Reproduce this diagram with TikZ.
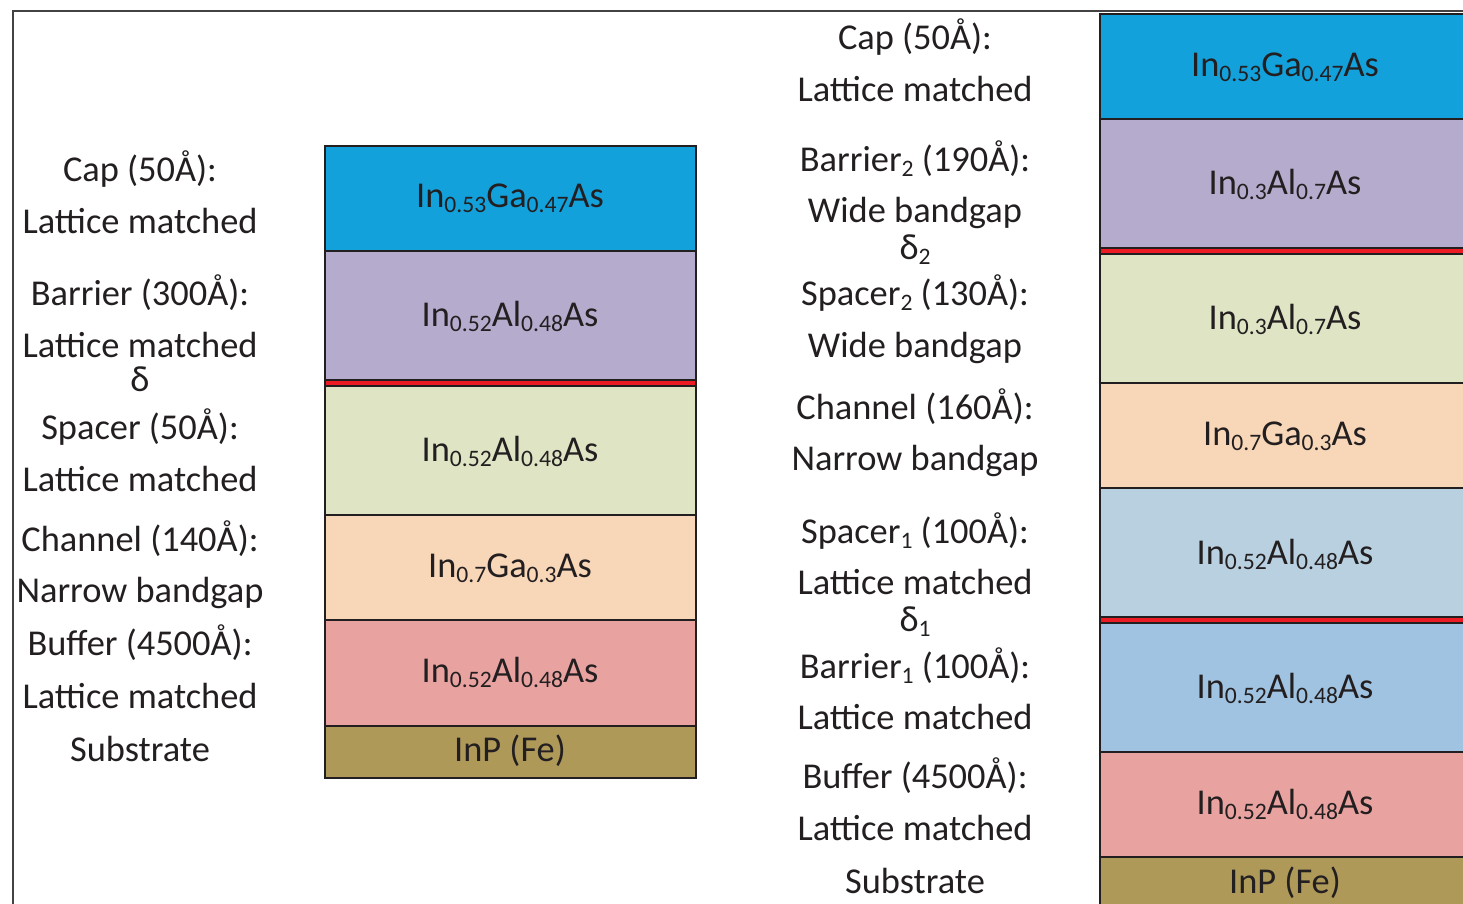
\documentclass[tikz,border=0pt]{standalone}
\usepackage{fontspec}
\setmainfont{Carlito}
\definecolor{edge}{HTML}{231F20}
\definecolor{txt}{HTML}{231F20}
\definecolor{cblue}{HTML}{13A1DB}
\definecolor{cpurple}{HTML}{B5ABCD}
\definecolor{cgreen}{HTML}{DFE4C4}
\definecolor{cpeach}{HTML}{F8D6B8}
\definecolor{clblue}{HTML}{B8D0DF}
\definecolor{cmblue}{HTML}{A0C3E1}
\definecolor{cpink}{HTML}{E8A3A1}
\definecolor{cgold}{HTML}{AE9959}
\definecolor{cred}{HTML}{ED1C24}
\newcommand\sbs[1]{\raisebox{-2.6pt}{\fontsize{11.8}{12}\selectfont #1}}
\begin{document}
\begin{tikzpicture}[x=0.5pt,y=-0.5pt,
  lay/.style={draw=edge,line width=1.3pt},
  dlay/.style={draw=edge,line width=0.8pt,fill=cred},
  lbl/.style={font=\fontsize{18.2}{20}\selectfont, text=txt, inner sep=0pt, text height=11.5pt, text depth=0pt, anchor=center},
  frameline/.style={draw=edge!85,line width=0.8pt}]
\useasboundingbox (0,0) rectangle (1463,904);
\clip (0,0) rectangle (1463,904);
\draw[frameline] (13,960) -- (13,11) -- (1500,11);

% left stack
\filldraw[lay,fill=cblue]   (325,146) rectangle (696,251);
\filldraw[lay,fill=cpurple] (325,251) rectangle (696,380);
\filldraw[dlay]             (325,380) rectangle (696,386);
\filldraw[lay,fill=cgreen]  (325,386) rectangle (696,515);
\filldraw[lay,fill=cpeach]  (325,515) rectangle (696,620);
\filldraw[lay,fill=cpink]   (325,620) rectangle (696,726);
\filldraw[lay,fill=cgold]   (325,726) rectangle (696,778);

\node[lbl] (lm1) at (510,196) {In\sbs{0.53}Ga\sbs{0.47}As};
\node[lbl] (lm2) at (510,315) {In\sbs{0.52}Al\sbs{0.48}As};
\node[lbl] (lm3) at (510,450) {In\sbs{0.52}Al\sbs{0.48}As};
\node[lbl] (lm4) at (510,566) {In\sbs{0.7}Ga\sbs{0.3}As};
\node[lbl] (lm5) at (510,671) {In\sbs{0.52}Al\sbs{0.48}As};
\node[lbl] (lm6) at (510,750) {InP (Fe)};

% left labels
\node[lbl] (la1) at (140,170) {Cap (50Å):};
\node[lbl] (la2) at (140,222) {Lattice matched};
\node[lbl] (la3) at (140,294) {Barrier (300Å):};
\node[lbl] (la4) at (140,346) {Lattice matched};
\node[lbl] (la5) at (140,380) {δ};
\node[lbl] (la6) at (140,428) {Spacer (50Å):};
\node[lbl] (la7) at (140,480) {Lattice matched};
\node[lbl] (la8) at (140,540) {Channel (140Å):};
\node[lbl] (la9) at (140,591) {Narrow bandgap};
\node[lbl] (la10) at (140,644) {Buffer (4500Å):};
\node[lbl] (la11) at (140,697) {Lattice matched};
\node[lbl] (la12) at (140,750) {Substrate};

% right stack
\filldraw[lay,fill=cblue]   (1100,14) rectangle (1475,119);
\filldraw[lay,fill=cpurple] (1100,119) rectangle (1475,248);
\filldraw[dlay]             (1100,248) rectangle (1475,254);
\filldraw[lay,fill=cgreen]  (1100,254) rectangle (1475,383);
\filldraw[lay,fill=cpeach]  (1100,383) rectangle (1475,488);
\filldraw[lay,fill=clblue]  (1100,488) rectangle (1475,617.5);
\filldraw[dlay]             (1100,617.5) rectangle (1475,623);
\filldraw[lay,fill=cmblue]  (1100,623) rectangle (1475,752);
\filldraw[lay,fill=cpink]   (1100,752) rectangle (1475,857);
\filldraw[lay,fill=cgold]   (1100,857) rectangle (1475,960);

\node[lbl] (rm1) at (1285,65) {In\sbs{0.53}Ga\sbs{0.47}As};
\node[lbl] (rm2) at (1285,183) {In\sbs{0.3}Al\sbs{0.7}As};
\node[lbl] (rm3) at (1285,318) {In\sbs{0.3}Al\sbs{0.7}As};
\node[lbl] (rm4) at (1285,434) {In\sbs{0.7}Ga\sbs{0.3}As};
\node[lbl] (rm5) at (1285,553) {In\sbs{0.52}Al\sbs{0.48}As};
\node[lbl] (rm6) at (1285,687) {In\sbs{0.52}Al\sbs{0.48}As};
\node[lbl] (rm7) at (1285,803) {In\sbs{0.52}Al\sbs{0.48}As};
\node[lbl] (rm8) at (1285,882) {InP (Fe)};

% right labels
\node[lbl] (ra1) at (915,38) {Cap (50Å):};
\node[lbl] (ra2) at (915,90) {Lattice matched};
\node[lbl] (ra3) at (915,160) {Barrier\sbs{2} (190Å):};
\node[lbl] (ra4) at (915,211) {Wide bandgap};
\node[lbl] (ra5) at (915,248) {δ\sbs{2}};
\node[lbl] (ra6) at (915,294) {Spacer\sbs{2} (130Å):};
\node[lbl] (ra7) at (915,346) {Wide bandgap};
\node[lbl] (ra8) at (915,408) {Channel (160Å):};
\node[lbl] (ra9) at (915,459) {Narrow bandgap};
\node[lbl] (ra10) at (915,532) {Spacer\sbs{1} (100Å):};
\node[lbl] (ra11) at (915,583) {Lattice matched};
\node[lbl] (ra12) at (915,620) {δ\sbs{1}};
\node[lbl] (ra13) at (915,667) {Barrier\sbs{1} (100Å):};
\node[lbl] (ra14) at (915,718) {Lattice matched};
\node[lbl] (ra15) at (915,777) {Buffer (4500Å):};
\node[lbl] (ra16) at (915,829) {Lattice matched};
\node[lbl] (ra17) at (915,882) {Substrate};
\end{tikzpicture}
\end{document}
